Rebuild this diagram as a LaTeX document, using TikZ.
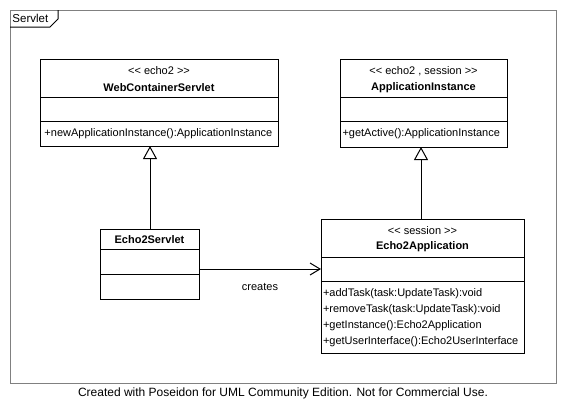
\documentclass[tikz,border=0pt]{standalone}
\usepackage{fontspec}
\setmainfont{Liberation Sans}[Ligatures=TeXOff]
\usetikzlibrary{arrows.meta}
\begin{document}
\begin{tikzpicture}[x=1pt,y=-1pt,line width=1pt,
  box/.style={draw,anchor=north west,inner sep=0pt},
  txt/.style={inner sep=0pt,font=\fontsize{11}{13}\selectfont},
  btxt/.style={inner sep=0pt,font=\fontsize{11}{13}\selectfont\bfseries},
  meth/.style={inner sep=0pt,anchor=west,font=\fontsize{11}{13}\selectfont},
  gen/.style={-{Triangle[open,width=14pt,length=13pt]}},
  dep/.style={-{Straight Barb[length=10pt,width=12pt]}}]
\useasboundingbox (0,0) rectangle (566,416);
% frame
\draw[gray] (10,10) rectangle (556,383);
\draw[black] (10,27) -- (50,27) -- (58,19) -- (58,10);
\node[meth,font=\fontsize{11.5}{13}\selectfont] (tab) at (12,18.5) {Servlet};
% WebContainerServlet
\node[box,minimum width=238pt,minimum height=87pt] (wcs) at (40,59) {};
\draw (40,97) -- (278,97) (40,121) -- (278,121);
\node[txt] (wcss) at (159,71) {<< echo2 >>};
\node[btxt] (wcsn) at (159,88) {WebContainerServlet};
\node[meth] (wcsm) at (44,134) {+newApplicationInstance():ApplicationInstance};
% ApplicationInstance
\node[box,minimum width=167pt,minimum height=88pt] (ai) at (340,59) {};
\draw (340,97) -- (507,97) (340,121) -- (507,121);
\node[txt] (ais) at (423.5,71) {<< echo2 , session >>};
\node[btxt] (ain) at (423.5,88) {ApplicationInstance};
\node[meth] (aim) at (342,134) {+getActive():ApplicationInstance};
% Echo2Servlet
\node[box,minimum width=99pt,minimum height=70pt] (es) at (100,229) {};
\draw (100,249) -- (199,249) (100,274) -- (199,274);
\node[btxt] (esn) at (149.5,239.5) {Echo2Servlet};
% Echo2Application
\node[box,minimum width=203pt,minimum height=134pt] (ea) at (321,219) {};
\draw (321,257) -- (524,257) (321,281) -- (524,281);
\node[txt] (eas) at (422.5,231) {<< session >>};
\node[btxt] (ean) at (422.5,247) {Echo2Application};
\node[meth] (eam1) at (322.5,294) {+addTask(task:UpdateTask):void};
\node[meth] (eam2) at (322.5,310) {+removeTask(task:UpdateTask):void};
\node[meth] (eam3) at (322.5,326) {+getInstance():Echo2Application};
\node[meth] (eam4) at (322.5,342) {+getUserInterface():Echo2UserInterface};
% connectors
\coordinate (g1) at (150,146);
\draw[gen] (es.north -| g1) -- (g1);
\coordinate (g2) at (421,147);
\draw[gen] (ea.north -| g2) -- (g2);
\coordinate (c1) at (199,269);
\draw[dep] (c1) -- (c1 -| ea.west);
\node[txt] (cl) at (260,287) {creates};
% footer
\node[inner sep=0pt,font=\fontsize{12}{14}\selectfont] (foot) at (283,393) {Created with Poseidon for UML Community Edition. Not for Commercial Use.};
\end{tikzpicture}
\end{document}
